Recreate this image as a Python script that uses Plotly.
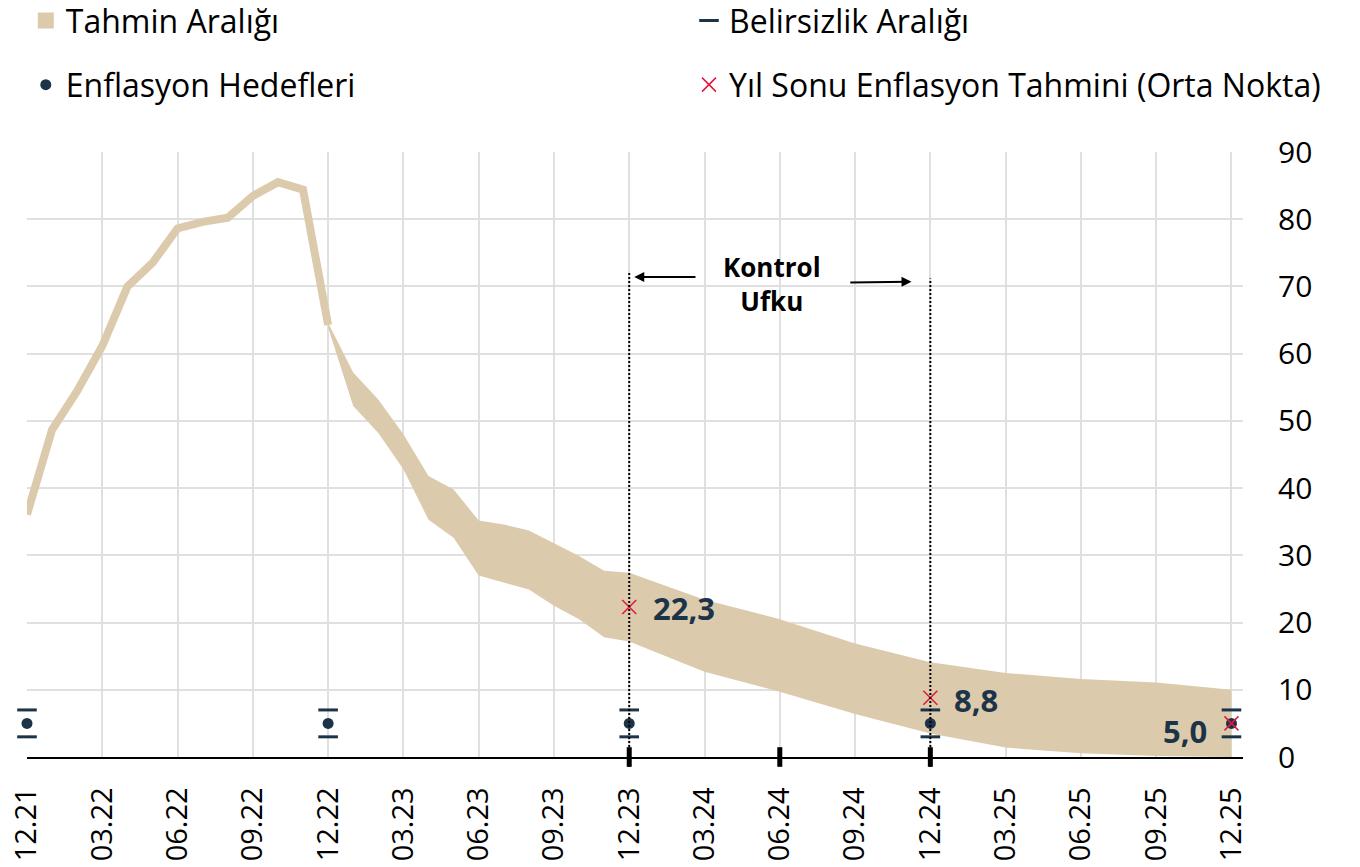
import plotly.graph_objects as go

# Month labels on the horizontal axis (12.21 .. 12.25)
months = [
    "12.21", "01.22", "02.22", "03.22", "04.22", "05.22", "06.22", "07.22", "08.22",
    "09.22", "10.22", "11.22", "12.22", "01.23", "02.23", "03.23", "04.23", "05.23",
    "06.23", "07.23", "08.23", "09.23", "10.23", "11.23", "12.23", "01.24", "02.24",
    "03.24", "04.24", "05.24", "06.24", "07.24", "08.24", "09.24", "10.24", "11.24",
    "12.24", "01.25", "02.25", "03.25", "04.25", "05.25", "06.25", "07.25", "08.25",
    "09.25", "10.25", "11.25", "12.25",
]
tick_labels = ["12.21", "03.22", "06.22", "09.22", "12.22", "03.23", "06.23", "09.23",
               "12.23", "03.24", "06.24", "09.24", "12.24", "03.25", "06.25", "09.25", "12.25"]

# Realised annual inflation (%)
hist_months = months[:13]
hist_values = [36.08, 48.69, 54.44, 61.14, 69.97, 73.50, 78.62, 79.60, 80.21,
               83.45, 85.51, 84.39, 64.27]

# Forecast range (upper / lower bounds)
band_months = ["12.22", "01.23", "02.23", "03.23", "04.23", "05.23", "06.23", "07.23",
               "08.23", "09.23", "10.23", "11.23", "12.23", "03.24", "06.24", "09.24",
               "12.24", "03.25", "06.25", "09.25", "12.25"]
band_upper = [64.6, 57.2, 53.2, 48.0, 41.8, 39.8, 35.2, 34.6, 33.7, 31.8, 29.9, 27.7,
              27.4, 23.4, 20.5, 16.9, 14.1, 12.5, 11.6, 11.1, 10.0]
band_lower = [63.9, 52.2, 48.2, 42.8, 35.3, 32.6, 27.0, 25.9, 24.9, 22.5, 20.5, 17.8,
              17.2, 12.7, 9.7, 6.4, 3.5, 1.4, 0.55, 0.15, 0.0]

# Inflation targets and uncertainty bounds
target_months = ["12.21", "12.22", "12.23", "12.24", "12.25"]
target_values = [5, 5, 5, 5, 5]
uncert_high = [7, 7, 7, 7, 7]
uncert_low = [3, 3, 3, 3, 3]

# Year-end forecasts (mid-point)
ye_months = ["12.23", "12.24", "12.25"]
ye_values = [22.3, 8.8, 5.0]

# Control horizon markers on the axis
axis_mark_months = ["12.23", "06.24", "12.24"]

BAND = "#dccaad"
NAVY = "#1d3448"
RED = "#e3163c"
FONT = "Open Sans"


def idx(m):
    return months.index(m)


fig = go.Figure()

fig.add_trace(go.Scatter(
    x=band_months + band_months[::-1],
    y=band_upper + band_lower[::-1],
    fill="toself", fillcolor=BAND, mode="lines", line=dict(width=0, color=BAND),
    showlegend=False, hoverinfo="skip",
))
fig.add_trace(go.Scatter(
    x=hist_months, y=hist_values, mode="lines",
    line=dict(width=8, color=BAND), showlegend=False,
))
# legend swatch for the forecast range
fig.add_trace(go.Scatter(
    x=[None], y=[None], mode="markers",
    marker=dict(symbol="square", size=20, color=BAND),
    name="Tahmin Aralığı", legend="legend",
))
fig.add_trace(go.Scatter(
    x=target_months + target_months, y=uncert_high + uncert_low, mode="markers",
    marker=dict(symbol="line-ew", size=14, line=dict(width=3, color=NAVY), color=NAVY),
    name="Belirsizlik Aralığı", legend="legend2", cliponaxis=False,
))
fig.add_trace(go.Scatter(
    x=target_months, y=target_values, mode="markers",
    marker=dict(symbol="circle", size=11, color=NAVY),
    name="Enflasyon Hedefleri", legend="legend3", cliponaxis=False,
))
fig.add_trace(go.Scatter(
    x=ye_months, y=ye_values, mode="markers",
    marker=dict(symbol="x-thin-open", size=14, line=dict(width=1.5, color=RED), color=RED),
    name="Yıl Sonu Enflasyon Tahmini (Orta Nokta)", legend="legend4", cliponaxis=False,
))
fig.add_trace(go.Scatter(
    x=axis_mark_months, y=[0] * len(axis_mark_months), mode="markers",
    marker=dict(symbol="line-ns", size=14, line=dict(width=5, color="black")),
    showlegend=False, cliponaxis=False,
))

# Value labels next to year-end forecasts
label_shift = {"12.23": (22, -1, "left"), "12.24": (22, -2, "left"), "12.25": (-22, -8, "right")}
for m, v in zip(ye_months, ye_values):
    dx, dy, anchor = label_shift[m]
    fig.add_annotation(
        x=idx(m), y=v, text=f"{v:.1f}".replace(".", ","), showarrow=False,
        xanchor=anchor, yanchor="middle", xshift=dx, yshift=dy,
        font=dict(family=FONT, size=31, color=NAVY, weight="bold"),
    )

# Control horizon: dotted guides, arrows and caption
ymax = 90
for m, top in [("12.23", 72.0), ("12.24", 71.2)]:
    xi = idx(m)
    fig.add_shape(type="line", xref="x", yref="paper", x0=xi, x1=xi,
                  y0=-1.5 / ymax, y1=top / ymax,
                  line=dict(color="black", width=2, dash="2px,2px"), layer="above")

fig.add_annotation(x=24.2, y=71.4, ax=26.7, ay=71.4, axref="x", ayref="y",
                   text="", showarrow=True, arrowhead=2, arrowsize=1, arrowwidth=2,
                   arrowcolor="black", standoff=0, startstandoff=0)
fig.add_annotation(x=35.25, y=70.7, ax=32.75, ay=70.6, axref="x", ayref="y",
                   text="", showarrow=True, arrowhead=2, arrowsize=1, arrowwidth=2,
                   arrowcolor="black", standoff=0, startstandoff=0)
fig.add_annotation(x=29.7, y=70.4, text="Kontrol<br>Ufku", showarrow=False,
                   xanchor="center", yanchor="middle",
                   font=dict(family=FONT, size=26, color="black", weight="bold"))


def legend_box(x, y):
    return dict(orientation="h", x=x, y=y, xanchor="left", yanchor="middle",
                font=dict(size=32, color="black"), bgcolor="rgba(0,0,0,0)",
                itemsizing="trace")


fig.update_layout(
    width=1360, height=867,
    margin=dict(l=27, r=117, t=152, b=110, autoexpand=False),
    paper_bgcolor="white", plot_bgcolor="white",
    font=dict(family=FONT, color="black"),
    xaxis=dict(
        type="category", categoryorder="array", categoryarray=months,
        range=[0, 48.46], tickmode="array",
        tickvals=tick_labels, ticktext=tick_labels, tickangle=-90,
        tickfont=dict(size=29, color="black"), ticks="", ticklabelstandoff=17,
        showgrid=True, gridcolor="#e0e0e0", gridwidth=1.5,
        showline=True, linecolor="black", linewidth=1.5, zeroline=False,
    ),
    yaxis=dict(
        side="right", range=[0, 90], tickvals=list(range(0, 91, 10)),
        tickfont=dict(size=30, color="black"), ticks="", ticklabelstandoff=34,
        showgrid=True, gridcolor="#e0e0e0", gridwidth=1.5,
        zeroline=False, showline=False,
    ),
    legend=legend_box(-0.001, 1.217),
    legend2=legend_box(0.5444, 1.217),
    legend3=legend_box(-0.001, 1.111),
    legend4=legend_box(0.5444, 1.111),
)

fig.write_html("out.html")
